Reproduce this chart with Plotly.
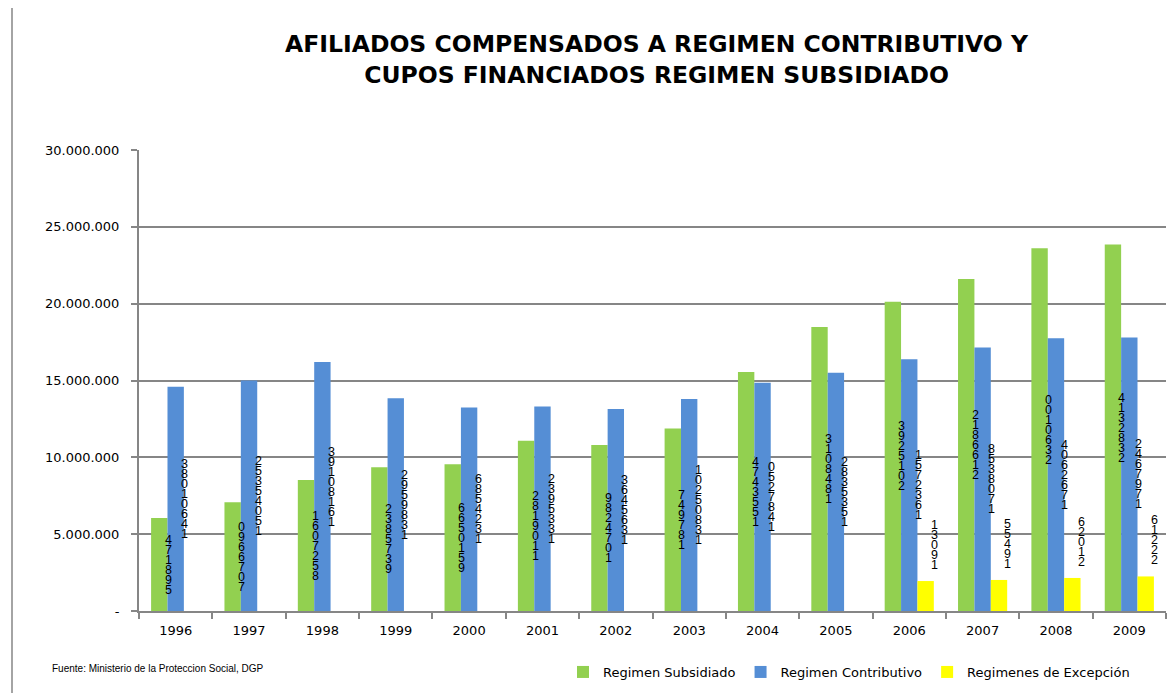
import plotly.graph_objects as go

years = ["1996", "1997", "1998", "1999", "2000", "2001", "2002",
         "2003", "2004", "2005", "2006", "2007", "2008", "2009"]

subsidiado = [6.05e6, 7.08e6, 8.52e6, 9.35e6, 9.55e6, 11.08e6, 10.8e6,
              11.87e6, 15.55e6, 18.48e6, 20.12e6, 21.6e6, 23.6e6, 23.85e6]
contributivo = [14.6e6, 15.0e6, 16.2e6, 13.85e6, 13.25e6, 13.3e6, 13.15e6,
                13.8e6, 14.85e6, 15.5e6, 16.38e6, 17.15e6, 17.75e6, 17.8e6]
excepcion = [None] * 10 + [1.95e6, 2.02e6, 2.15e6, 2.25e6]

# data labels as they appear in the reference (vertical digit stacks)
lab_subsidiado = ["471895", "0966707", "1607258", "2385739", "6650159", "2819011", "9824701",
                  "749781", "4743551", "3108481", "3925102", "2186612", "0010632", "4132832"]
lab_contributivo = ["38010641", "25354051", "39108161", "2959831", "6854231", "2395331", "3645631",
                    "10250831", "0527841", "2835351", "1572361", "8538071", "4062671", "2467971"]
lab_excepcion = [""] * 10 + ["13091", "55491", "62012", "61222"]

series_names = ["Regimen Subsidiado", "Regimen Contributivo", "Regimenes de Excepción"]
colors = ["#92D050", "#558ED5", "#FFFF00"]

# page body offset of the html (8px default margin)
OFF = 8
W, H = 1176, 693
ML, MR, MT, MB = 139 - OFF, 1176 - (1166 - OFF), 150 - OFF, 693 - (611 - OFF)
plot_w = W - ML - MR
plot_h = H - MT - MB


def px_x(x):
    return (x - OFF - ML) / plot_w


def px_y(y):
    return (H - MB - (y - OFF)) / plot_h


bargap = 0.33
bar_px = plot_w / len(years) * (1 - bargap) / 3

fig = go.Figure()
for vals, name, col in zip([subsidiado, contributivo, excepcion], series_names, colors):
    fig.add_trace(go.Bar(x=years, y=vals, name=name, marker_color=col,
                         marker_line_width=0))

ann = []
lab_font = dict(family="Liberation Sans, Arial, sans-serif", size=12.5, color="#000000")
step = 10
for si, (vals, labs) in enumerate([(subsidiado, lab_subsidiado),
                                   (contributivo, lab_contributivo),
                                   (excepcion, lab_excepcion)]):
    xs = (si - 1) * bar_px + 9
    for ci, (v, lab) in enumerate(zip(vals, labs)):
        if v is None or not lab:
            continue
        n = len(lab)
        for i, ch in enumerate(lab):
            if si < 2:
                yv = v / 2
                ysh = (n - 1) / 2 * step - i * step
            else:
                yv = v
                ysh = 16 + (n - 1 - i) * step
            ann.append(dict(x=ci, y=yv, xref="x", yref="y", text=ch, showarrow=False,
                            xshift=xs, yshift=ysh, font=lab_font,
                            xanchor="center", yanchor="middle"))

ann.append(dict(x=px_x(657), y=px_y(60), xref="paper", yref="paper",
                text="AFILIADOS COMPENSADOS A REGIMEN CONTRIBUTIVO Y<br>CUPOS FINANCIADOS REGIMEN SUBSIDIADO",
                showarrow=False, xanchor="center", yanchor="middle",
                font=dict(family="DejaVu Sans, sans-serif", size=23.5, color="#000000", weight="bold")))
ann.append(dict(x=px_x(50), y=px_y(668), xref="paper", yref="paper",
                text="Fuente: Ministerio de la Proteccion Social, DGP", showarrow=False,
                xanchor="left", yanchor="middle",
                font=dict(family="Liberation Sans, Arial, sans-serif", size=10, color="#000000")))

tickvals = [0, 5e6, 10e6, 15e6, 20e6, 25e6, 30e6]
ticktext = ["-", "5.000.000", "10.000.000", "15.000.000", "20.000.000", "25.000.000", "30.000.000"]

axis_font = dict(family="DejaVu Sans, sans-serif", size=13, color="#000000")
fig.update_layout(
    width=W, height=H,
    margin=dict(l=ML, r=MR, t=MT, b=MB, autoexpand=False),
    paper_bgcolor="white", plot_bgcolor="white",
    barmode="group", bargap=bargap, bargroupgap=0,
    showlegend=True,
    legend=dict(orientation="h", x=px_x(563), xanchor="left",
                y=px_y(672), yanchor="middle",
                font=dict(family="DejaVu Sans, sans-serif", size=13, color="#000000"),
                bgcolor="rgba(0,0,0,0)", itemwidth=30, tracegroupgap=0),
    xaxis=dict(type="category", range=[-0.5, len(years) - 0.5], tickson="boundaries",
               ticks="outside", ticklen=6, automargin=False,
               tickcolor="#868686", tickwidth=2, showline=True, linecolor="#868686", linewidth=2,
               showgrid=False, tickfont=axis_font, ticklabelstandoff=6, tickangle=0),
    yaxis=dict(range=[0, 30e6], tickvals=tickvals, ticktext=ticktext, ticks="outside",
               ticklen=6, tickcolor="#868686", tickwidth=2, showline=True, linecolor="#868686",
               linewidth=2, showgrid=True, gridcolor="#868686", gridwidth=2, zeroline=False,
               tickfont=axis_font, ticklabelstandoff=9, automargin=False),
    annotations=ann,
    shapes=[dict(type="line", xref="paper", yref="paper",
                 x0=px_x(12), x1=px_x(12),
                 y0=px_y(700), y1=px_y(0),
                 line=dict(color="#868686", width=1.5))],
)

fig.write_html("out.html")
